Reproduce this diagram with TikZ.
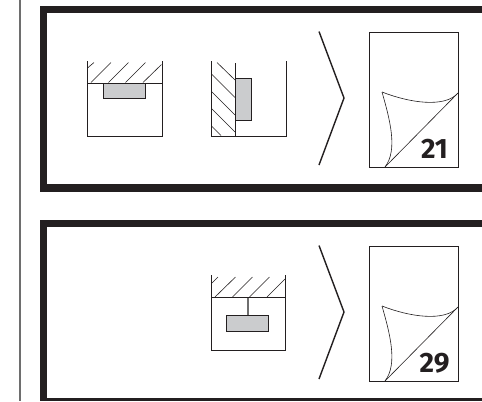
\documentclass[tikz,border=0pt]{standalone}
\usepackage{fontspec}
\setmainfont{Fira Sans}
\definecolor{ink}{HTML}{231F20}
\definecolor{fillg}{HTML}{CBCCCE}
\definecolor{rule}{HTML}{6E6E6E}
\tikzset{
  x=0.75pt,y=-0.75pt,
  thickbar/.style={fill=ink,draw=none},
  boxline/.style={draw=ink,line width=0.9pt*0.75},
  hatch/.style={draw=ink,line width=0.6pt*0.75},
  thin line/.style={draw=ink,line width=0.8pt*0.75},
  chev/.style={draw=ink,line width=1.4pt*0.75,line join=miter},
  gbox/.style={draw=ink,fill=fillg,line width=0.9pt*0.75},
  pagenum/.style={font=\bfseries\fontsize{21}{21}\selectfont,text=ink,inner sep=0pt,anchor=center}
}
\newcommand{\pagecurl}[3]{%
  \begin{scope}[yshift=#1*-0.75pt]
    \draw[chev] (319,31.5) -- (344,98) -- (319,165);
    \draw[boxline] (369.5,32.5) rectangle (458.5,167);
    \draw[hatch] (385,167) -- (458,93);
    \draw[hatch] (382,92) .. controls (410,103) and (445,108) .. (458,93);
    \draw[hatch] (382,92) .. controls (390,120) and (398,150) .. (385,167);
    \node[pagenum] (#2) at (434.5,149) {#3};
  \end{scope}}
\begin{document}
\begin{tikzpicture}
\useasboundingbox (0,0) rectangle (482,401);
\fill[white] (0,0) rectangle (482,401);
\draw[draw=rule,line width=1.8pt*0.75] (20,0) -- (20,401);
% frame 1
\fill[thickbar] (39.5,5.5) rectangle (482,13);
\fill[thickbar] (39.5,5.5) rectangle (47,191.5);
\fill[thickbar] (39.5,184) rectangle (482,191.5);
% frame 2
\fill[thickbar] (39.5,219.5) rectangle (482,227);
\fill[thickbar] (39.5,219.5) rectangle (47,401);
\fill[thickbar] (39.5,398) rectangle (482,401);
% box 1
\draw[boxline] (87,61) -- (87,136) -- (162,136) -- (162,61);
\draw[boxline] (87,83) -- (162,83);
\foreach \a/\b/\c/\d in {87.5/68/94/62.5,91/82.5/111/62.5,108.5/82.5/128.5/62.5,125.5/82.5/145.5/62.5,143/82.5/161.5/64.5}
  \draw[hatch] (\a,\b) -- (\c,\d);
\node[gbox,minimum width=0pt,inner sep=0pt] (b1) at (124,91) {};
\draw[gbox] (103,83) rectangle (145,98.5);
% box 2
\draw[boxline] (211,61) -- (211,136) -- (286,136) -- (286,61);
\draw[boxline] (235.5,63) -- (235.5,136);
\draw[gbox] (235.5,78.5) rectangle (251,120);
\foreach \a/\b/\c/\d in {217,62.5/235,80,211.5/74/235,97.5,211.5/91.5/235,115,211.5/108.5/235,132,211.5/125.5/221,135.5}{}
\draw[hatch] (217,62.5) -- (235,80);
\draw[hatch] (211.5,74) -- (235,97.5);
\draw[hatch] (211.5,91.5) -- (235,115);
\draw[hatch] (211.5,108.5) -- (235,132);
\draw[hatch] (211.5,126) -- (221,135.5);
\pagecurl{0}{p1}{21}
% box 3
\draw[boxline] (211,275) -- (211,350) -- (285.5,350) -- (285.5,275);
\draw[boxline] (211,297.5) -- (285.5,297.5);
\foreach \a/\b/\c/\d in {212,283/218,277,215,297/235.5,277,232.5,297/252.5,277,249.5,297/269.5,277,267,297/285,279}{}
\draw[hatch] (212,283) -- (218,277);
\draw[hatch] (215,297) -- (235.5,277);
\draw[hatch] (232.5,297) -- (252.5,277);
\draw[hatch] (249.5,297) -- (269.5,277);
\draw[hatch] (267,297) -- (285,279);
\draw[draw=rule,line width=2pt*0.75] (247.5,297.5) -- (247.5,315.5);
\draw[gbox] (226.5,315.5) rectangle (268.5,331);
\pagecurl{214}{p2}{29}
\end{tikzpicture}
\end{document}
